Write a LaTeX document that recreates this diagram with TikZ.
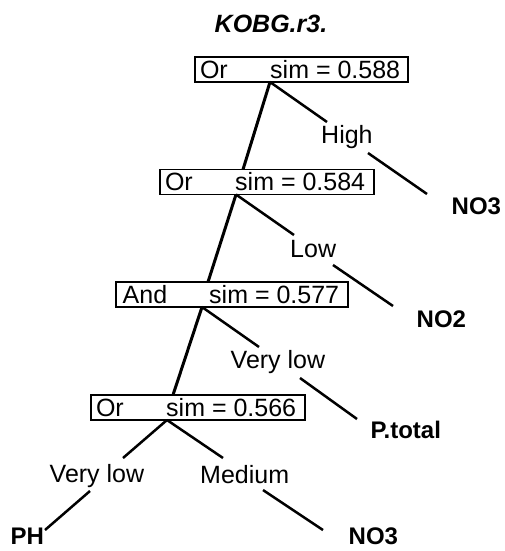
\documentclass[tikz,border=0pt]{standalone}
\usepackage{fontspec}
\setmainfont{Liberation Sans}
\usetikzlibrary{calc}
\begin{document}
\begin{tikzpicture}[x=1pt,y=-1pt,
  box/.style={draw, line width=1.3pt, inner sep=0pt, outer sep=0pt, anchor=north west, minimum height=25pt},
  txt/.style={inner sep=0pt, anchor=base west, font=\fontsize{25}{30}\selectfont},
  leaf/.style={inner sep=0pt, anchor=base west, font=\fontsize{24}{29}\selectfont\bfseries},
  spine/.style={line width=3pt},
  branch/.style={line width=2.5pt}]
\useasboundingbox (0,0) rectangle (504,551);
\node[inner sep=0pt, anchor=base, font=\fontsize{25}{30}\selectfont\bfseries\itshape] (title) at (271,33) {KOBG.r3.};

% boxes
\node[box, minimum width=213pt] (b1) at (195,57) {};
\node[txt] (o1) at (199.8,78) {Or};
\node[txt] (s1) at (270,78) {sim = 0.588};

\node[box, minimum width=214pt] (b2) at (160,169.5) {};
\node[txt] (o2) at (164.8,190.5) {Or};
\node[txt] (s2) at (235,190.5) {sim = 0.584};

\node[box, minimum width=232pt] (b3) at (116,282) {};
\node[txt] (a3) at (122.5,303) {And};
\node[txt] (s3) at (209,303) {sim = 0.577};

\node[box, minimum width=214pt] (b4) at (91,395) {};
\node[txt] (o4) at (95.8,416) {Or};
\node[txt] (s4) at (166,416) {sim = 0.566};

% edge labels
\node[txt] (high) at (321,143) {High};
\node[txt] (low) at (290,257) {Low};
\node[txt] (vl1) at (230.5,368) {Very low};
\node[txt] (vl2) at (49.5,482) {Very low};
\node[txt] (med) at (200,483) {Medium};

% leaves
\node[leaf] (no3a) at (451.5,214) {NO3};
\node[leaf] (no2) at (416.5,327) {NO2};
\node[leaf] (ptot) at (370.5,438) {P.total};
\node[leaf] (ph) at (10.5,544) {PH};
\node[leaf] (no3b) at (348.5,544) {NO3};

% connector anchor points
\coordinate (r1) at ($(b1.south west)+(75,0)$);
\coordinate (r2) at ($(b2.south west)+(76,0)$);
\coordinate (r3) at ($(b3.south west)+(86,0)$);
\coordinate (r4) at ($(b4.south west)+(76,0)$);
\coordinate (t2) at ($(b2.north west)+(83,0)$);
\coordinate (t3) at ($(b3.north west)+(92,0)$);
\coordinate (t4) at ($(b4.north west)+(82,0)$);

% spine
\draw[spine] (r1) -- (t2);
\draw[spine] (r2) -- (t3);
\draw[spine] (r3) -- (t4);

% branches to labels
\draw[branch] (r1) -- ($(high.base west)+(6,-21)$);
\draw[branch] (r2) -- ($(low.base west)+(4,-22)$);
\draw[branch] (r3) -- ($(vl1.base west)+(28.5,-21)$);
\draw[branch] (r4) -- ($(vl2.base west)+(73.5,-24)$);
\draw[branch] (r4) -- ($(med.base west)+(23,-25)$);

% labels to leaves
\draw[branch] ($(high.base west)+(47,10)$) -- ($(no3a.base west)+(-24.5,-20)$);
\draw[branch] ($(low.base west)+(43,8)$) -- ($(no2.base west)+(-23.5,-21)$);
\draw[branch] ($(vl1.base west)+(69.5,10)$) -- ($(ptot.base west)+(-13.5,-19)$);
\draw[branch] ($(vl2.base west)+(40.5,9)$) -- ($(ph.base west)+(34.5,-14)$);
\draw[branch] ($(med.base west)+(63,7)$) -- ($(no3b.base west)+(-25.5,-14)$);
\end{tikzpicture}
\end{document}
